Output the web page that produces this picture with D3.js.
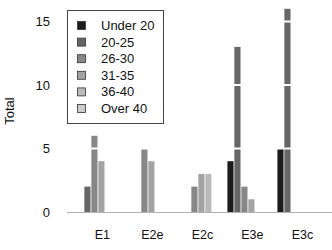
<!DOCTYPE html>
<html>
<head>
<meta charset="utf-8">
<script src="https://cdn.jsdelivr.net/npm/d3@7"></script>
<style>
body { margin: 0; background: #fff; }
text { font-family: "Liberation Sans", Arial, sans-serif; }
</style>
</head>
<body>
<div id="chart"></div>
<script>
var width = 332, height = 250;

var groups = ["E1", "E2e", "E2c", "E3e", "E3c"];
var ages = ["Under 20", "20-25", "26-30", "31-35", "36-40", "Over 40"];
var colors = ["#1c1c1c", "#666666", "#878787", "#a3a3a3", "#bababa", "#cccccc"];
// one row per age class, values in group order
var under20 = [0, 0, 0, 4, 5];
var age2025 = [2, 0, 0, 13, 16];
var age2630 = [6, 5, 2, 2, 0];
var age3135 = [4, 4, 3, 1, 0];
var age3640 = [0, 0, 3, 0, 0];
var over40 = [0, 0, 0, 0, 0];
var yTicks = [0, 5, 10, 15];

var series = [under20, age2025, age2630, age3135, age3640, over40];

var svg = d3.select("#chart").append("svg")
	.attr("width", width).attr("height", height);

var x = d3.scaleBand().domain(groups).range([77.4, 327.4]).padding(0);
var xi = d3.scaleBand().domain(ages).range([0, 41]).paddingInner(0.12);
var y = d3.scaleLinear().domain([0, 16]).range([212, 8.8]);
var color = d3.scaleOrdinal().domain(ages).range(colors);

// flatten into bar records
var bars = [];
groups.forEach(function(g, gi) {
	ages.forEach(function(a, ai) {
		var v = series[ai][gi];
		if (v > 0) bars.push({group: g, age: a, value: v});
	});
});

svg.append("g").selectAll("rect")
	.data(bars).enter().append("rect")
	.attr("x", function(d) { return x(d.group) + xi(d.age); })
	.attr("y", function(d) { return y(d.value); })
	.attr("width", xi.bandwidth())
	.attr("height", function(d) { return y(0) - y(d.value); })
	.attr("fill", function(d) { return color(d.age); });

// white grid lines over the bars
svg.append("g").selectAll("line")
	.data(yTicks.filter(function(t) { return t > 0; })).enter().append("line")
	.attr("x1", 67).attr("x2", width)
	.attr("y1", function(d) { return y(d); })
	.attr("y2", function(d) { return y(d); })
	.attr("stroke", "#fff").attr("stroke-width", 2);

// baseline
svg.append("line")
	.attr("x1", 67).attr("x2", width)
	.attr("y1", y(0) + 0.5).attr("y2", y(0) + 0.5)
	.attr("stroke", "#b0b0b0").attr("stroke-width", 1.2);

// y axis labels
var yAxis = svg.append("g").attr("transform", "translate(50,0)")
	.call(d3.axisLeft(y).tickValues(yTicks).tickSize(0).tickPadding(0));
yAxis.select(".domain").remove();
yAxis.selectAll("text").attr("font-size", 13).attr("fill", "#111")
	.style("font-family", "'Liberation Sans', Arial, sans-serif");

// x axis labels
var xAxis = svg.append("g").attr("transform", "translate(0,230)")
	.call(d3.axisBottom(x).tickSize(0).tickPadding(0));
xAxis.select(".domain").remove();
xAxis.selectAll("text").attr("font-size", 12.5).attr("fill", "#111")
	.style("font-family", "'Liberation Sans', Arial, sans-serif");

svg.append("text")
	.attr("transform", "translate(14,111)rotate(-90)")
	.attr("text-anchor", "middle")
	.attr("font-size", 13).attr("fill", "#111")
	.text("Total");

// legend
var legend = svg.append("g");
legend.append("rect")
	.attr("x", 67.5).attr("y", 10.5).attr("width", 96).attr("height", 113)
	.attr("fill", "#fff").attr("stroke", "#444").attr("stroke-width", 1);

var item = legend.selectAll("g.item")
	.data(ages).enter().append("g").attr("class", "item")
	.attr("transform", function(d, i) { return "translate(0," + (25.5 + i * 16.6) + ")"; });

item.append("rect")
	.attr("x", 77.5).attr("y", -4).attr("width", 8).attr("height", 8)
	.attr("fill", function(d) { return color(d); })
	.attr("stroke", "#333").attr("stroke-width", 0.8);

item.append("text")
	.attr("x", 101).attr("dy", "0.35em")
	.attr("font-size", 13).attr("fill", "#111")
	.text(function(d) { return d; });
</script>
</body>
</html>
